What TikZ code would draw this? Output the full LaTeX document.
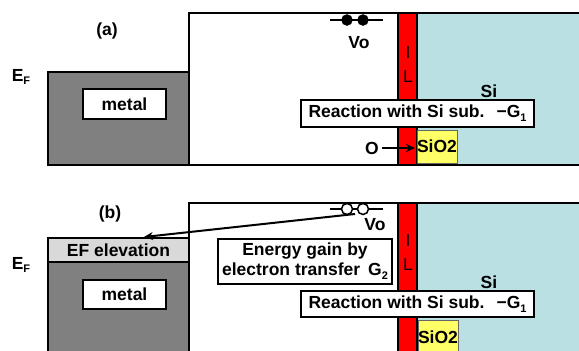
\documentclass[tikz,border=0pt]{standalone}
\usepackage{fontspec}
\setmainfont{Liberation Sans}
\usetikzlibrary{arrows.meta}
\definecolor{sifill}{RGB}{186,224,227}
\definecolor{metalgray}{RGB}{128,128,128}
\definecolor{efgray}{RGB}{217,217,217}
\definecolor{oxyellow}{RGB}{255,255,102}
\tikzset{
  outline/.style={draw=black, line width=2.5pt},
  labelbox/.style={draw=black, line width=2.3pt, fill=white, inner sep=0pt},
  txt/.style={font=\fontsize{17.5}{20}\selectfont\bfseries, inner sep=0pt},
  iltxt/.style={font=\fontsize{17.5}{20}\selectfont, inner sep=0pt},
  ilbar/.style={fill=red, draw=black, line width=1.4pt},
  oxbox/.style={fill=oxyellow, draw=black!60, line width=0.5pt},
  vline/.style={line width=1.8pt},
  arr/.style={line width=2pt, -{Stealth[length=9pt,width=8pt]}},
}
\newcommand{\mysub}[1]{\raisebox{-0.4ex}{\fontsize{11}{11}\selectfont #1}}
\begin{document}
\begin{tikzpicture}[x=1pt,y=-1pt]
\useasboundingbox (0,0) rectangle (579,351);
% ================= panel (a) =================
\fill[sifill] (417,13) rectangle (582,165);
\draw[outline] (189,165) -- (189,13) -- (585,13);
\draw[outline] (48,165) -- (585,165);
\draw[outline, fill=metalgray] (48,72) rectangle (189,165);
\node[labelbox, minimum width=83pt, minimum height=30pt] (metA) at (124.5,104) {};
\node[txt] at (metA) {metal};
\draw[ilbar] (398,13) rectangle (417,165);
\node[oxbox, minimum width=40pt, minimum height=33pt, inner sep=0pt] (oxA) at (437,146.5) {};
\node[txt] at (oxA) {SiO2};
\node[labelbox, minimum width=233pt, minimum height=27pt] (reaA) at (417.5,113.5) {};
\node[txt] at (reaA) {Reaction with Si sub.\hspace{12pt}−G\mysub{1}};
\node[iltxt] at (408,52) {I};
\node[iltxt] at (408,76) {L};
\node[txt] (siA) at (489,91) {Si};
\node[txt] (oA) at (372,148) {O};
\coordinate (oxAin) at (415,148);
\draw[arr] (oA.east) ++(3,0) -- (oxAin);
% Vo filled
\draw[vline] (330,20) -- (383,20);
\node[circle, fill=black, draw=black, minimum size=11pt, inner sep=0pt] (vA1) at (347,20) {};
\node[circle, fill=black, draw=black, minimum size=11pt, inner sep=0pt] (vA2) at (363,20) {};
\node[txt] (voA) at (359,42.5) {Vo};
\node[txt] (labA) at (107,31) {(a)};
\node[txt] (efA) at (21,77) {E\mysub{F}};
% ================= panel (b) =================
\fill[sifill] (417,203) rectangle (582,355);
\draw[outline] (189,355) -- (189,203) -- (585,203);
\draw[outline, fill=metalgray] (48,262) rectangle (189,356);
\draw[outline, fill=efgray] (48,238) rectangle (189,262);
\node[txt] (efel) at (118.5,250.5) {EF elevation};
\node[labelbox, minimum width=83pt, minimum height=29pt] (metB) at (124.5,294.5) {};
\node[txt] at (metB) {metal};
\draw[ilbar] (398,203) rectangle (417,356);
\node[oxbox, minimum width=40pt, minimum height=34pt, inner sep=0pt] (oxB) at (438,337) {};
\node[txt] at (oxB) {SiO2};
\node[labelbox, minimum width=233pt, minimum height=26pt] (reaB) at (417.5,304) {};
\node[txt] at (reaB) {Reaction with Si sub.\hspace{12pt}−G\mysub{1}};
\node[labelbox, minimum width=174pt, minimum height=45pt] (engB) at (305,261.5) {};
\node[txt, align=center] at (engB) {Energy gain by\\electron transfer\hspace{8pt}G\mysub{2}};
\node[iltxt] at (408,240) {I};
\node[iltxt] at (408,264) {L};
\node[txt] (siB) at (489,282) {Si};
% Vo open
\draw[vline] (330,209) -- (383,209);
\node[circle, fill=white, draw=black, line width=1.5pt, minimum size=11pt, inner sep=0pt] (vB1) at (347,209) {};
\node[circle, fill=white, draw=black, line width=1.5pt, minimum size=11pt, inner sep=0pt] (vB2) at (363,209) {};
\node[txt] (voB) at (375,225) {Vo};
\coordinate (arrS) at (355,214);
\coordinate (arrE) at (144,237);
\draw[arr] (arrS) -- (arrE);
\node[txt] (labB) at (110,214) {(b)};
\node[txt] (efB) at (21,265) {E\mysub{F}};
\end{tikzpicture}
\end{document}
